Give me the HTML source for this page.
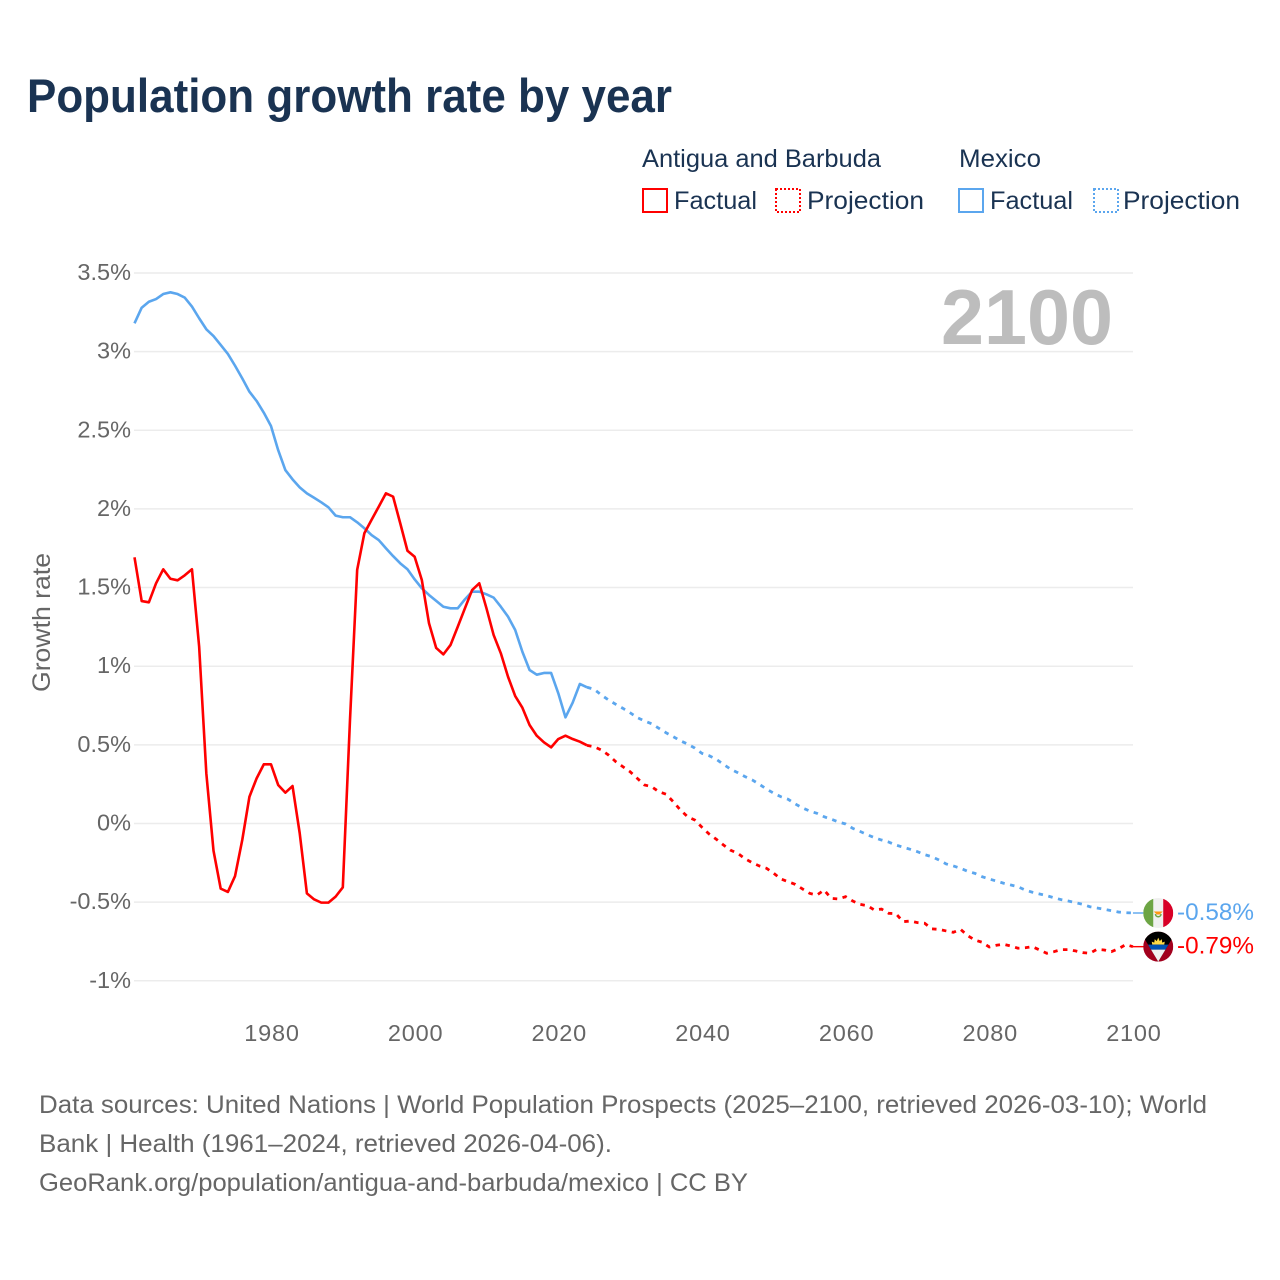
<!DOCTYPE html>
<html lang="en">
<head>
<meta charset="utf-8">
<title>Population growth rate by year</title>
<style>
html,body{margin:0;padding:0;background:#fff;width:1280px;height:1280px;overflow:hidden}
svg{display:block;font-family:"Liberation Sans",sans-serif}
.legend-text{font-size:25px;fill:#1a3352}
.source{font-size:25px;fill:#666}
.tick{font-size:23.5px;fill:#666}
</style>
</head>
<body>
<svg id="chart" width="1280" height="1280" viewBox="0 0 1280 1280" xmlns="http://www.w3.org/2000/svg">
  <defs>
    <clipPath id="flag-clip"><circle cx="0" cy="0" r="15"/></clipPath>
  </defs>
  <rect width="1280" height="1280" fill="#fff"/>
  <text x="27" y="112" font-size="47" font-weight="700" fill="#1a3352" textLength="645" lengthAdjust="spacingAndGlyphs">Population growth rate by year</text>

  <g>
    <text class="legend-text" x="642" y="167" textLength="239" lengthAdjust="spacingAndGlyphs">Antigua and Barbuda</text>
    <text class="legend-text" x="959" y="167" textLength="82" lengthAdjust="spacingAndGlyphs">Mexico</text>
    <g>
      <rect x="643" y="189" width="24" height="23" fill="none" stroke="#ff0000" stroke-width="2"/>
      <text class="legend-text" x="674" y="209" textLength="83" lengthAdjust="spacingAndGlyphs">Factual</text>
    </g>
    <g>
      <rect x="776" y="189" width="24" height="23" fill="none" stroke="#ff0000" stroke-width="2" stroke-dasharray="2 2"/>
      <text class="legend-text" x="807" y="209" textLength="117" lengthAdjust="spacingAndGlyphs">Projection</text>
    </g>
    <g>
      <rect x="959" y="189" width="24" height="23" fill="none" stroke="#5ba6ee" stroke-width="2"/>
      <text class="legend-text" x="990" y="209" textLength="83" lengthAdjust="spacingAndGlyphs">Factual</text>
    </g>
    <g>
      <rect x="1094" y="189" width="24" height="23" fill="none" stroke="#5ba6ee" stroke-width="2" stroke-dasharray="2 2"/>
      <text class="legend-text" x="1123" y="209" textLength="117" lengthAdjust="spacingAndGlyphs">Projection</text>
    </g>
  </g>

  <text transform="translate(50 692) rotate(-90)" font-size="25" fill="#666" textLength="139" lengthAdjust="spacingAndGlyphs">Growth rate</text>

  <g id="grid"></g>
  <g id="y-ticks"></g>
  <g id="x-ticks"></g>

  <text x="941" y="344" font-size="78" font-weight="700" fill="#bdbdbd" textLength="172" lengthAdjust="spacingAndGlyphs">2100</text>

  <g id="series"></g>

  <g id="flag-mexico">
    <g clip-path="url(#flag-clip)">
      <rect x="-15" y="-15" width="30" height="30" fill="#f0f0f0"/>
      <rect x="-15" y="-15" width="10" height="30" fill="#6da544"/>
      <rect x="5" y="-15" width="10" height="30" fill="#d80027"/>
      <path d="M-3.5 1 A3.5 3.5 0 0 0 3.5 1 L2 1 A2 2 0 0 1 -2 1Z" fill="#6da544"/>
      <path d="M-4.5 -1.5 L4.5 -1.5 L1.5 1.5 L-1.5 1.5Z" fill="#ff9811"/>
    </g>
  </g>
  <g id="flag-antigua">
    <g clip-path="url(#flag-clip)">
      <rect x="-15" y="-15" width="30" height="30" fill="#a2001d"/>
      <polygon points="-18,-15 18,-15 0,15" fill="#000"/>
      <path d="M-6 -2 L-6.5 -5 L-4 -4 L-3.5 -7.5 L-1.5 -5.5 L0 -9 L1.5 -5.5 L3.5 -7.5 L4 -4 L6.5 -5 L6 -2Z" fill="#ffda44"/>
      <polygon points="-10.2,-2 10.2,-2 7.2,3 -7.2,3" fill="#0052b4"/>
      <polygon points="-7.2,3 7.2,3 0,15" fill="#f0f0f0"/>
    </g>
  </g>
  <g id="value-labels"></g>

  <g>
    <text class="source" x="39" y="1113" textLength="1168" lengthAdjust="spacingAndGlyphs">Data sources: United Nations | World Population Prospects (2025–2100, retrieved 2026-03-10); World</text>
    <text class="source" x="39" y="1152" textLength="573" lengthAdjust="spacingAndGlyphs">Bank | Health (1961–2024, retrieved 2026-04-06).</text>
    <text class="source" x="39" y="1191" textLength="709" lengthAdjust="spacingAndGlyphs">GeoRank.org/population/antigua-and-barbuda/mexico | CC BY</text>
  </g>
</svg>

<script>
const years = [1961,1962,1963,1964,1965,1966,1967,1968,1969,1970,1971,1972,1973,1974,1975,1976,1977,1978,1979,1980,1981,1982,1983,1984,1985,1986,1987,1988,1989,1990,1991,1992,1993,1994,1995,1996,1997,1998,1999,2000,2001,2002,2003,2004,2005,2006,2007,2008,2009,2010,2011,2012,2013,2014,2015,2016,2017,2018,2019,2020,2021,2022,2023,2024,2025,2026,2027,2028,2029,2030,2031,2032,2033,2034,2035,2036,2037,2038,2039,2040,2041,2042,2043,2044,2045,2046,2047,2048,2049,2050,2051,2052,2053,2054,2055,2056,2057,2058,2059,2060,2061,2062,2063,2064,2065,2066,2067,2068,2069,2070,2071,2072,2073,2074,2075,2076,2077,2078,2079,2080,2081,2082,2083,2084,2085,2086,2087,2088,2089,2090,2091,2092,2093,2094,2095,2096,2097,2098,2099,2100];
const antiguaValues = [
1.692,1.414,1.406,1.527,1.616,1.556,1.546,1.578,1.616,1.124,
0.319,-0.173,-0.414,-0.435,-0.334,-0.105,0.17,0.287,0.376,0.376,
0.245,0.196,0.238,-0.062,-0.444,-0.482,-0.503,-0.503,-0.465,-0.406,
0.658,1.612,1.845,1.93,2.014,2.099,2.078,1.908,1.734,1.696,
1.548,1.273,1.116,1.075,1.135,1.251,1.368,1.484,1.527,1.368,
1.198,1.082,0.933,0.81,0.736,0.626,0.558,0.516,0.484,0.537,
0.558,0.537,0.52,0.497,0.488,0.467,0.435,0.393,0.361,0.329,
0.287,0.245,0.234,0.202,0.186,0.139,0.086,0.043,0.022,-0.024,
-0.067,-0.10,-0.137,-0.17,-0.19,-0.224,-0.249,-0.27,-0.285,-0.317,
-0.353,-0.37,-0.387,-0.416,-0.444,-0.455,-0.423,-0.476,-0.48,-0.465,
-0.493,-0.514,-0.522,-0.55,-0.544,-0.571,-0.573,-0.624,-0.62,-0.63,
-0.634,-0.67,-0.673,-0.683,-0.692,-0.673,-0.713,-0.741,-0.755,-0.785,
-0.774,-0.768,-0.779,-0.793,-0.79,-0.783,-0.804,-0.825,-0.815,-0.802,
-0.802,-0.81,-0.821,-0.825,-0.80,-0.804,-0.815,-0.796,-0.77,-0.783];
const mexicoValues = [
3.18,3.279,3.317,3.334,3.366,3.377,3.366,3.343,3.286,3.212,
3.142,3.099,3.042,2.985,2.91,2.83,2.745,2.686,2.612,2.527,
2.374,2.247,2.188,2.137,2.099,2.071,2.042,2.01,1.957,1.947,
1.947,1.915,1.877,1.834,1.802,1.75,1.70,1.654,1.616,1.552,
1.495,1.453,1.415,1.378,1.368,1.368,1.425,1.474,1.474,1.457,
1.436,1.378,1.315,1.23,1.092,0.976,0.946,0.957,0.957,0.828,
0.675,0.768,0.887,0.866,0.853,0.817,0.785,0.758,0.732,0.704,
0.673,0.652,0.634,0.605,0.577,0.552,0.526,0.505,0.48,0.446,
0.431,0.408,0.376,0.345,0.323,0.298,0.277,0.249,0.219,0.192,
0.17,0.154,0.124,0.099,0.079,0.065,0.043,0.027,0.01,-0.003,
-0.031,-0.05,-0.071,-0.09,-0.105,-0.118,-0.137,-0.151,-0.164,-0.179,
-0.198,-0.211,-0.232,-0.257,-0.27,-0.285,-0.304,-0.317,-0.338,-0.353,
-0.366,-0.38,-0.391,-0.402,-0.423,-0.437,-0.448,-0.459,-0.472,-0.484,
-0.493,-0.503,-0.514,-0.529,-0.537,-0.545,-0.554,-0.563,-0.567,-0.569];
const lastFactualYear = 2024;
const yTickValues = [3.5,3,2.5,2,1.5,1,0.5,0,-0.5,-1];
const xTickValues = [1980,2000,2020,2040,2060,2080,2100];
const endLabels = ["-0.58%","-0.79%"];

const NS = 'http://www.w3.org/2000/svg';
const RED = '#ff0000', BLUE = '#5ba6ee';
function x(year){ return 134.5 + (year - 1961) * 7.183; }
function y(value){ return 823.5 - value * 157.3; }
function linePath(values, from, to){
  let d = '';
  years.forEach((yr, i) => {
    if (yr < from || yr > to) return;
    d += (d ? 'L' : 'M') + x(yr).toFixed(2) + ' ' + y(values[i]).toFixed(2);
  });
  return d;
}
function make(tag, parentId){
  const el = document.createElementNS(NS, tag);
  document.getElementById(parentId).appendChild(el);
  return el;
}

yTickValues.forEach(v => {
  const g = make('line', 'grid');
  
  
  g.setAttribute('x1', 134);
  g.setAttribute('x2', 1133);
  g.setAttribute('y1', y(v));
  g.setAttribute('y2', y(v));
  g.setAttribute('stroke', '#ececec');
  g.setAttribute('stroke-width', 1.5);
  const t = make('text', 'y-ticks');
  
  
  t.setAttribute('class', 'tick');
  t.setAttribute('x', 131);
  t.setAttribute('y', y(v) + 7);
  t.setAttribute('text-anchor', 'end');
  t.textContent = v + '%';
});

xTickValues.forEach(yr => {
  const t = make('text', 'x-ticks');
  
  
  t.setAttribute('class', 'tick');
  t.setAttribute('x', x(yr) + 1);
  t.setAttribute('y', 1041);
  t.setAttribute('text-anchor', 'middle');
  t.setAttribute('letter-spacing', '0.8');
  t.textContent = yr;
});

function drawSeries(values, color, key){
  const solid = make('path', 'series');
  
  
  solid.setAttribute('d', linePath(values, years[0], lastFactualYear));
  solid.setAttribute('fill', 'none');
  solid.setAttribute('stroke', color);
  solid.setAttribute('stroke-width', 2.6);
  solid.setAttribute('stroke-linejoin', 'round');
  const dashed = make('path', 'series');
  
  
  dashed.setAttribute('d', linePath(values, lastFactualYear, years[years.length - 1]));
  dashed.setAttribute('fill', 'none');
  dashed.setAttribute('stroke', color);
  dashed.setAttribute('stroke-width', 2.8);
  dashed.setAttribute('stroke-dasharray', '4.5 5.5');
  const last = values[values.length - 1];
  const conn = make('line', 'series');
  
  
  conn.setAttribute('x1', x(years[years.length - 1]));
  conn.setAttribute('x2', x(years[years.length - 1]) + 12);
  conn.setAttribute('y1', y(last));
  conn.setAttribute('y2', y(last));
  conn.setAttribute('stroke', color);
  conn.setAttribute('stroke-width', 1.4);
}
drawSeries(mexicoValues, BLUE, 'mexico');
drawSeries(antiguaValues, RED, 'antigua');

const endX = x(years[years.length - 1]) + 25.3;
document.getElementById('flag-mexico').setAttribute('transform', 'translate(' + endX + ' ' + y(mexicoValues[mexicoValues.length - 1]) + ')');
document.getElementById('flag-antigua').setAttribute('transform', 'translate(' + endX + ' ' + y(antiguaValues[antiguaValues.length - 1]) + ')');

[[mexicoValues, BLUE, endLabels[0]], [antiguaValues, RED, endLabels[1]]].forEach(item => {
  const t = make('text', 'value-labels');
  
  
  t.setAttribute('x', 1177);
  t.setAttribute('y', y(item[0][item[0].length - 1]) + 7);
  t.setAttribute('font-size', 24.5);
  t.setAttribute('fill', item[1]);
  t.setAttribute('textLength', 77);
  t.setAttribute('lengthAdjust', 'spacingAndGlyphs');
  t.textContent = item[2];
});
</script>
</body>
</html>
